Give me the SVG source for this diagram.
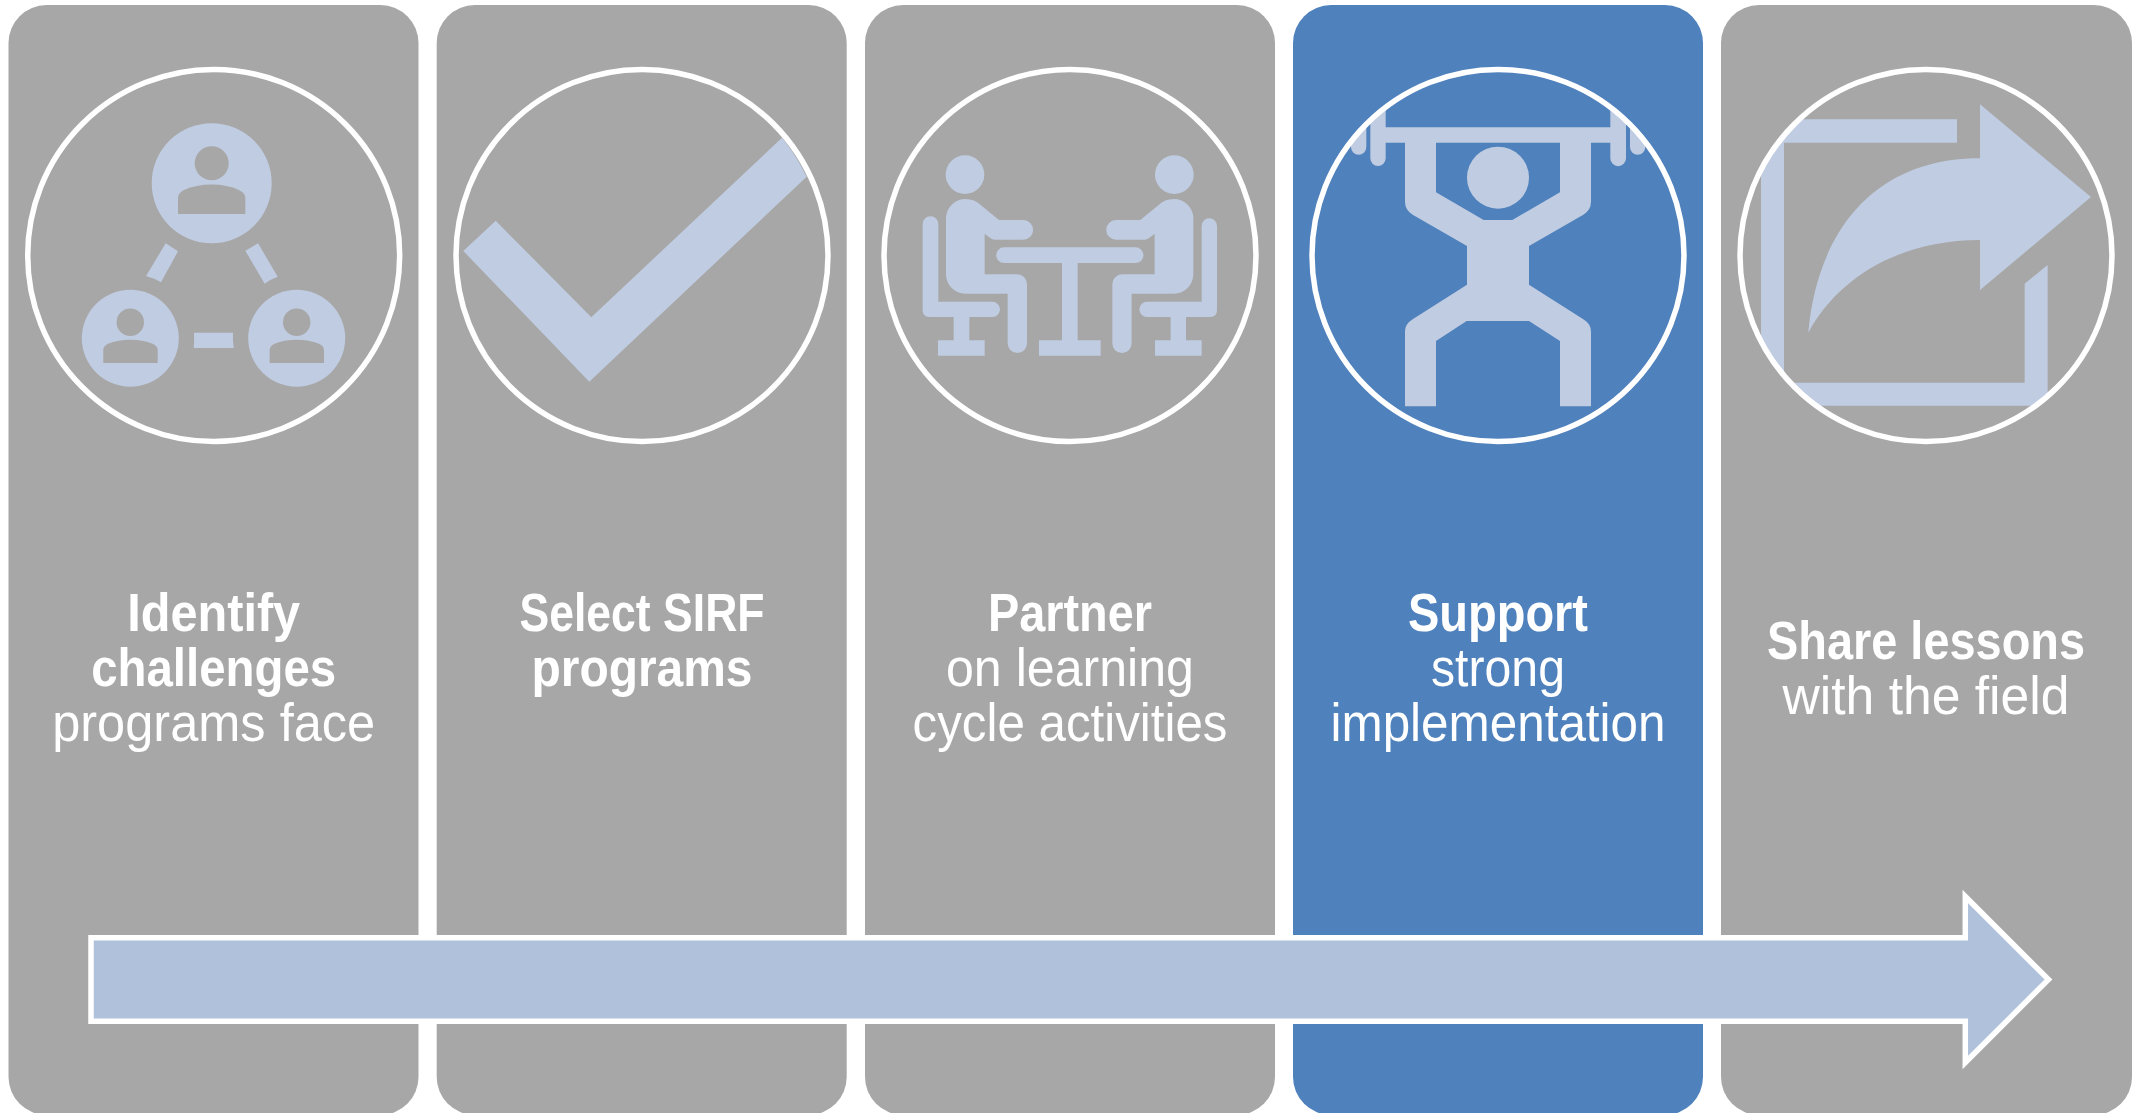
<svg xmlns="http://www.w3.org/2000/svg" width="2138" height="1113" viewBox="0 0 2138 1113">
<style>
.panel{fill:#A7A7A7}
.blue{fill:#4F81BD}
.ring{fill:none;stroke:#fff;stroke-width:5.5}
.ic{fill:#C0CCE1}
.ih{fill:#A7A7A7}
text{font-family:"Liberation Sans",Arial,sans-serif;font-size:54px;fill:#fff;text-anchor:middle}
.b{font-weight:700}
.flow{fill:#B0C1DB;stroke:#fff;stroke-width:5.5;stroke-miterlimit:10}
</style>
<defs>
<clipPath id="c4"><circle cx="624" cy="616" r="558"/></clipPath>
<clipPath id="c5"><circle cx="648" cy="616" r="558"/></clipPath>
<path id="bodyL" d="M258 505A58 58 0 0 1 316 447Q345 447 362 465L417 510L490 510A29.5 29.5 0 0 1 490 569L405 569Q395 569 374 551L374 673L472 673A29 29 0 0 1 501 702L501 880A29 29 0 0 1 443 880L443 731L316 731A58 58 0 0 1 258 673Z"/>
</defs>
<rect width="2138" height="1113" fill="#fff"/>
<g id="node-identify">
<rect class="panel" x="8.5" y="5" width="410" height="1110" rx="38"/>
<circle class="ic" cx="211.7" cy="183.3" r="60"/>
<circle class="ih" cx="211.7" cy="163.3" r="17"/>
<path class="ih" d="M178 214V198Q178 193 184 190Q196 184.500 211.700 184.500Q227 184.500 239 190Q245.300 193 245.300 198V214Z"/>
<circle class="ic" cx="130.300" cy="338.300" r="48.500"/>
<circle class="ih" cx="130.300" cy="322.300" r="13.700"/>
<path class="ih" d="M103.300 363V350Q103.300 346 108 343.700Q118 339.700 130.300 339.700Q143 339.700 152.500 343.700Q157.700 346 157.700 350V363Z"/>
<circle class="ic" cx="296.700" cy="338.300" r="48.500"/>
<circle class="ih" cx="296.700" cy="322.300" r="13.700"/>
<path class="ih" d="M269.700 363V350Q269.700 346 274.500 343.700Q284 339.700 296.700 339.700Q309 339.700 319 343.700Q324 346 324 350V363Z"/>
<path class="ic" d="M165.700 243.300L178 251.300L161 282.300Q153.500 278 146 276Z"/>
<path class="ic" d="M258 243.300L245.300 250.700L264.700 283.700Q271 279 277.700 276.700Z"/>
<path class="ic" d="M194 332.700H233Q232.500 340 233.700 348H193.700Q194.500 340 194 332.700Z"/>
<circle class="ring" cx="213.700" cy="255.500" r="186"/>
<text class="b" x="213.700" y="631" textLength="173" lengthAdjust="spacingAndGlyphs">Identify</text>
<text class="b" x="213.700" y="686" textLength="245" lengthAdjust="spacingAndGlyphs">challenges</text>
<text x="213.700" y="741" textLength="323" lengthAdjust="spacingAndGlyphs">programs face</text>
</g>
<g id="node-select">
<rect class="panel" x="436.700" y="5" width="410" height="1110" rx="38"/>
<path class="ic" d="M463.300 251L495.700 220.700L591.300 317.300L782 137.700Q796 155 806.700 176.700L589.300 381.700Z"/>
<circle class="ring" cx="642" cy="255.500" r="186"/>
<text class="b" x="642" y="631" textLength="245" lengthAdjust="spacingAndGlyphs">Select SIRF</text>
<text class="b" x="642" y="686" textLength="221" lengthAdjust="spacingAndGlyphs">programs</text>
</g>
<g id="node-partner">
<rect class="panel" x="865" y="5" width="410" height="1110" rx="38"/>
<g class="ic" transform="translate(860 50) scale(.33333)">
<circle cx="315" cy="374" r="58"/>
<circle cx="943" cy="374" r="58"/>
<use href="#bodyL"/>
<use href="#bodyL" transform="translate(1258 0) scale(-1 1)"/>
<path d="M188 522A23.500 23.500 0 0 1 235 522L235 755L397 755A23 23 0 0 1 397 801L328 801L328 871L374 871L374 917L234 917L234 871L281 871L281 801L208 801Q188 801 188 781Z"/>
<path d="M1071 528A23 23 0 0 0 1025 528L1025 755L861 755A23 23 0 0 0 861 801L932 801L932 871L885 871L885 917L1025 917L1025 871L978 871L978 801L1051 801Q1071 801 1071 781Z"/>
<path d="M432 592L827 592A23.500 23.500 0 0 1 827 639L653 639L653 871L722 871L722 917L537 917L537 871L606 871L606 639L432 639A23.500 23.500 0 0 1 432 592Z"/>
</g>
<circle class="ring" cx="1070" cy="255.500" r="186"/>
<text class="b" x="1070" y="631" textLength="164" lengthAdjust="spacingAndGlyphs">Partner</text>
<text x="1070" y="686" textLength="248" lengthAdjust="spacingAndGlyphs">on learning</text>
<text x="1070" y="741" textLength="315" lengthAdjust="spacingAndGlyphs">cycle activities</text>
</g>
<g id="node-support">
<rect class="blue" x="1293" y="5" width="410" height="1110" rx="38"/>
<g class="ic" transform="translate(1290 50) scale(.33333)">
<g clip-path="url(#c4)">
<path d="M241 100H287V325A23 23 0 0 1 241 325Z"/>
<path d="M961 100H1008V325A23.500 23.500 0 0 1 961 325Z"/>
<path d="M183 100H229V291A23 23 0 0 1 183 291Z"/>
<path d="M1020 100H1066V291A23 23 0 0 1 1020 291Z"/>
</g>
<circle cx="624" cy="383" r="93"/>
<path d="M280 232H968V278H903V455Q903 480 880 494L717 588L717 704L880 808Q903 822 903 845L903 1069L810 1069L810 873L717 813L530 813L438 873L438 1069L345 1069L345 845Q345 822 368 808L531 704L531 588L368 494Q345 480 345 455V278H280ZM438 278L438 427L581 510L667 510L810 427L810 278Z"/>
</g>
<circle class="ring" cx="1498" cy="255.500" r="186"/>
<text class="b" x="1498" y="631" textLength="180" lengthAdjust="spacingAndGlyphs">Support</text>
<text x="1498" y="686" textLength="134" lengthAdjust="spacingAndGlyphs">strong</text>
<text x="1498" y="741" textLength="335" lengthAdjust="spacingAndGlyphs">implementation</text>
</g>
<g id="node-share">
<rect class="panel" x="1721" y="5" width="411" height="1110" rx="38"/>
<g class="ic" transform="translate(1710 50) scale(.33333)">
<path clip-path="url(#c5)" d="M153 208L741 208L741 278L222 278L222 998L944 998L944 701L1013 645L1013 1067L153 1067Z"/>
<path d="M810 163L1143 441L810 720L810 570C560 570 380 690 295 848C320 560 480 325 810 325Z"/>
</g>
<circle class="ring" cx="1926" cy="255.500" r="186"/>
<text class="b" x="1926" y="658.500" textLength="318" lengthAdjust="spacingAndGlyphs">Share lessons</text>
<text x="1926" y="713.500" textLength="287" lengthAdjust="spacingAndGlyphs">with the field</text>
</g>
<g id="connectors">
<path class="flow" d="M91 937.700H1965.300V896.500L2048.500 979.500L1965.300 1062.500V1021.300H91Z"/>
</g>
</svg>
